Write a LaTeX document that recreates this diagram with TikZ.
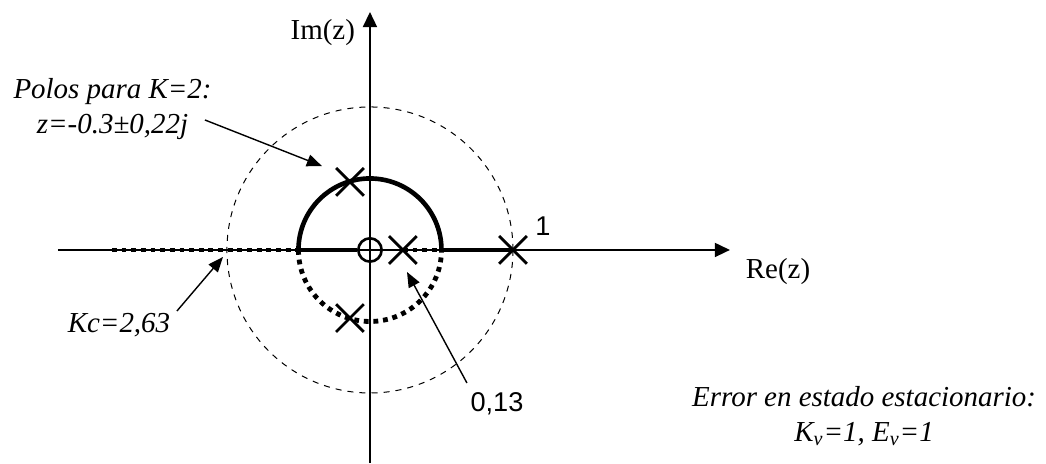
\documentclass[tikz,border=0pt]{standalone}
\usepackage{fontspec}
\setmainfont{Liberation Serif}
\newfontfamily\arialfont{Liberation Sans}
\usetikzlibrary{arrows.meta,shapes.misc}
\tikzset{
  axis/.style={line width=0.8pt, -{Triangle[length=7.5pt,width=7pt]}},
  locus/.style={line width=2.3pt},
  locusdots/.style={line width=2.4pt, dash pattern=on 2.4pt off 2.4pt},
  pole/.style={cross out, draw, line width=1.4pt, minimum size=12.4pt, inner sep=0pt},
  zero/.style={circle, draw, line width=1.3pt, minimum size=11.6pt, inner sep=0pt},
  note/.style={font=\itshape, align=center},
  value/.style={font=\arialfont\fontsize{13.5}{16}\selectfont},
  pointer/.style={line width=0.7pt, -{Triangle[length=7.5pt,width=6pt]}},
}
\begin{document}
\fontsize{14.4}{17.3}\selectfont
\begin{tikzpicture}[x=2.5cm, y=2.5cm]
  \useasboundingbox (-2.587,-1.49) rectangle (4.727,1.748);
  \draw[dashed, line width=0.5pt] (0,0) circle (1);
  \draw[axis] (-2.182,0) -- (2.517,0);
  \draw[axis] (0,-1.49) -- (0,1.664);
  \node[anchor=east] (im) at (-0.035,1.52) {Im(z)};
  \node (re) at (2.853,-0.154) {Re(z)};
  \node[pole] (p1) at (-0.14,0.476) {};
  \node[pole] (p2) at (-0.14,-0.476) {};
  \node[pole] (p3) at (0.23,0) {};
  \node[pole] (p4) at (1,0) {};
  \node[zero] (z0) at (0,0) {};
  \coordinate (br) at (-0.5,0);
  \coordinate (bk) at (0.5,0);
  \draw[locus] (br) arc (180:0:0.5);
  \draw[locusdots] (br) arc (180:360:0.5);
  \draw[locus] (br) -- (z0.west);
  \draw[locus] (bk) -- (p4.center);
  \draw[locusdots] (-1.804,0) -- (br);
  \draw[locusdots] (p3.center) -- (bk);
  \node[value] (one) at (1.21,0.168) {1};
  \node[value] (cero) at (0.888,-1.077) {0,13};
  \node[note] (polos) at (-1.80,0.986) {Polos para K=2:\\ z=-0.3±0,22j};
  \node[note] (kc) at (-1.755,-0.524) {Kc=2,63};
  \node[note] (error) at (3.455,-1.161) {Error en estado estacionario:\\ K\textsubscript{v}=1, E\textsubscript{v}=1};
  \coordinate (polostail) at (-1.154,0.909);
  \coordinate (polostip) at (-0.336,0.587);
  \coordinate (kctail) at (-1.350,-0.427);
  \coordinate (kctip) at (-1.028,-0.049);
  \coordinate (cerotail) at (0.678,-0.930);
  \coordinate (cerotip) at (0.259,-0.154);
  \draw[pointer] (polostail) -- (polostip);
  \draw[pointer] (kctail) -- (kctip);
  \draw[pointer] (cerotail) -- (cerotip);
\end{tikzpicture}
\end{document}
